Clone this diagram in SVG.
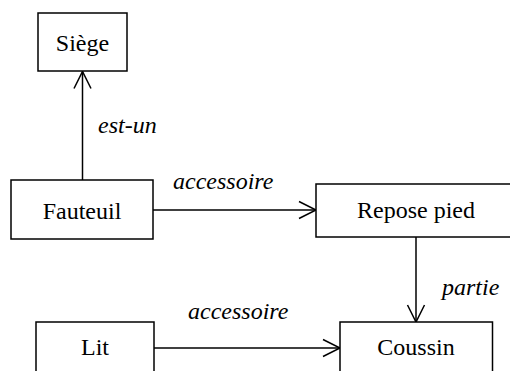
<svg xmlns="http://www.w3.org/2000/svg" width="510" height="371" viewBox="0 0 510 371">
<style>
.box{fill:#fff;stroke:#000;stroke-width:1.5}
.edge{fill:none;stroke:#000;stroke-width:1.5}
</style>
<defs>
<marker id="arr" viewBox="0 0 20 20" refX="18" refY="10" markerWidth="20" markerHeight="20" markerUnits="userSpaceOnUse" orient="auto">
<path d="M1,1.5 L18,10 L1,18.5" fill="none" stroke="#000" stroke-width="1.5"/>
</marker>
</defs>
<rect width="510" height="371" fill="#fff"/>
<g id="connectors">
<line class="edge" x1="82.5" y1="180" x2="82.5" y2="71.5" marker-end="url(#arr)"/>
<line class="edge" x1="153" y1="210" x2="316" y2="210" marker-end="url(#arr)"/>
<line class="edge" x1="416" y1="237" x2="416" y2="322" marker-end="url(#arr)"/>
<line class="edge" x1="154" y1="348" x2="340" y2="348" marker-end="url(#arr)"/>
<g font-family="Liberation Serif, serif" font-size="24" font-style="italic" fill="#000">
<text x="98" y="133">est-un</text>
<text x="173" y="189">accessoire</text>
<text x="442" y="295">partie</text>
<text x="188" y="319">accessoire</text>
</g>
</g>
<g font-family="Liberation Serif, serif" font-size="24" fill="#000" text-anchor="middle">
<g id="siege">
<rect class="box" x="38" y="13" width="89" height="58"/>
<text x="82.5" y="51">Siège</text>
</g>
<g id="fauteuil">
<rect class="box" x="11" y="180" width="142" height="59"/>
<text x="82" y="219">Fauteuil</text>
</g>
<g id="repose-pied">
<rect class="box" x="316" y="184" width="200" height="53"/>
<text x="416" y="218">Repose pied</text>
</g>
<g id="lit">
<rect class="box" x="36" y="322" width="118" height="60"/>
<text x="95" y="355">Lit</text>
</g>
<g id="coussin">
<rect class="box" x="340" y="322" width="152.5" height="60"/>
<text x="416" y="355">Coussin</text>
</g>
</g>
</svg>
